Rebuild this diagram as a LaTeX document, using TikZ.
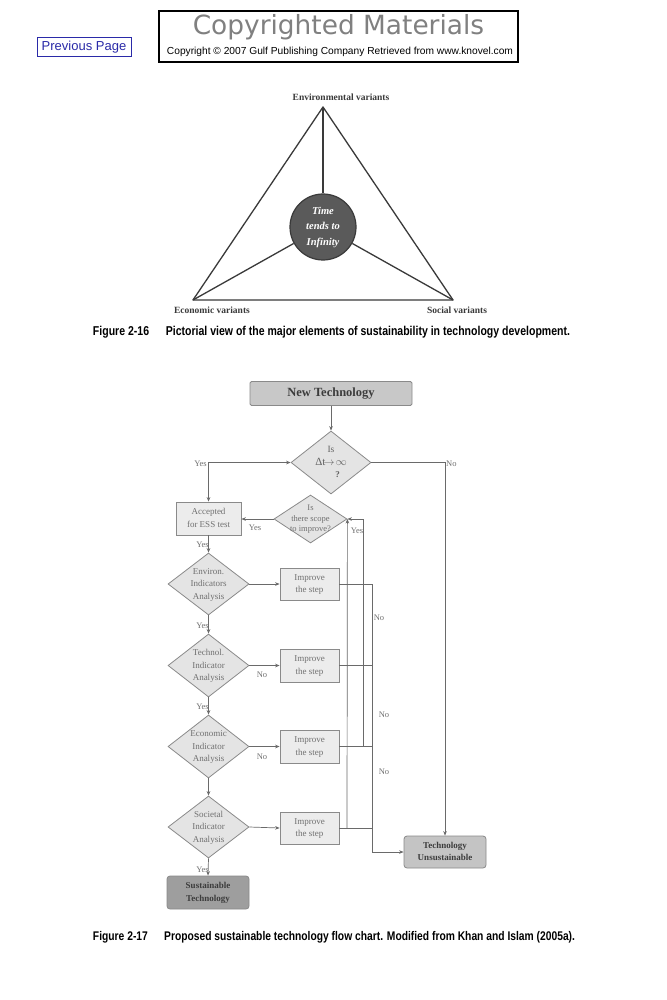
\documentclass[tikz,border=0pt]{standalone}
\usepackage{fontspec}
\setmainfont{Liberation Serif}
\newfontfamily\arialf{Liberation Sans}
\newfontfamily\verdf{DejaVu Sans}
\newfontfamily\condf[FakeStretch=0.82]{Liberation Sans}
\usetikzlibrary{shapes.geometric,arrows.meta}
\definecolor{lncol}{HTML}{6A6A6A}
\definecolor{bcol}{HTML}{8A8A8A}
\definecolor{dfill}{HTML}{E4E4E4}
\definecolor{bfill}{HTML}{ECECEC}
\definecolor{ntfill}{HTML}{C8C8C8}
\definecolor{unfill}{HTML}{C4C4C4}
\definecolor{sufill}{HTML}{9E9E9E}
\definecolor{ftext}{HTML}{707070}
\definecolor{dtext}{HTML}{3C3C3C}
\definecolor{tricol}{HTML}{3A3A3A}
\definecolor{circfill}{HTML}{5A5A5A}
\definecolor{prevblue}{HTML}{2A2AA8}
\newcommand{\dtxt}[1]{\makebox[0pt]{\raisebox{-0.25em}[0pt][0pt]{\begin{tabular}{@{}c@{}}#1\end{tabular}}}}
\begin{document}
\begin{tikzpicture}[x=1pt,y=-1pt,
  >={Stealth[length=4.5pt,width=3.6pt]},
  ln/.style={draw=lncol, line width=0.7pt},
  tri/.style={draw=tricol, line width=1.3pt, line join=round},
  tlab/.style={font=\bfseries\fontsize{9.5}{11}\selectfont, text=tricol, inner sep=0pt},
  box/.style={rectangle, draw=bcol, line width=0.8pt, inner sep=0pt, fill=bfill, text=ftext, font=\fontsize{9}{12.5}\selectfont},
  dia/.style={diamond, draw=bcol, line width=0.8pt, inner sep=0pt, fill=dfill, text=ftext, font=\fontsize{9}{12.5}\selectfont},
  lab/.style={font=\fontsize{8.5}{10}\selectfont, text=ftext, inner sep=0pt},
  captxt/.style={inner sep=0pt, text=black}
]
\fill[white] (0,0) rectangle (666,1000);
\useasboundingbox (0,0) rectangle (666,1000);

% ---------- header ----------
\node[draw=prevblue, line width=0.8pt, fill=white, minimum width=94pt, minimum height=19pt, inner sep=0pt,
      text=prevblue, font=\arialf\fontsize{13}{14}\selectfont] (prev) at (84,47) {Previous Page};
\node[draw=black, line width=1.6pt, minimum width=359pt, minimum height=51pt, inner sep=0pt] (cbox) at (338.5,36.5) {};
\node[inner sep=0pt, text=gray, font=\verdf\fontsize{26.4}{28}\selectfont] (ctitle) at (338.5,27) {Copyrighted Materials};
\node[inner sep=0pt, text=black] (csub) at (340,52) {\resizebox{346pt}{!}{\arialf Copyright \textcopyright{} 2007 Gulf Publishing Company Retrieved from www.knovel.com}};

% ---------- figure 2-16 ----------
\coordinate (A) at (323,107);
\coordinate (B) at (193,300);
\coordinate (C) at (453,300);
\node[circle, draw=tricol, line width=1.2pt, fill=circfill, minimum size=66pt, inner sep=0pt,
      text=white, font=\bfseries\itshape\fontsize{10.5}{15.5}\selectfont] (O) at (323,227)
      {\dtxt{Time\\tends to\\Infinity}};
\draw[tri] (A) -- (B) -- (C) -- cycle;
\draw[tri] (A) -- (O);
\draw[tri] (B) -- (O);
\draw[tri] (C) -- (O);
\node[tlab] (envl) at (341,97) {Environmental variants};
\node[tlab] (ecol) at (212,310) {Economic variants};
\node[tlab] (socl) at (457,310) {Social variants};
\node[captxt] (cap1) at (331.5,332) {\resizebox{477pt}{!}{\condf\bfseries Figure 2-16\hspace{1.3em}Pictorial view of the major elements of sustainability in technology development.}};

% ---------- figure 2-17 ----------
\node[box, fill=ntfill, rounded corners=1.5pt, minimum width=162pt, minimum height=24pt, text=dtext,
      font=\bfseries\fontsize{12.5}{14}\selectfont] (nt) at (331,393.5) {New Technology};
\node[dia, minimum width=80pt, minimum height=63pt, text=dtext!80!white] (d1) at (331,462.5)
      {\dtxt{\fontsize{9.5}{15.5}\selectfont Is\\{\fontsize{11}{12}\selectfont Δt$\!\rightarrow\!\infty$}\\\hspace*{13pt}\textbf{?}}};
\node[box, minimum width=65pt, minimum height=33pt] (acc) at (208.5,518.5) {\dtxt{Accepted\\for ESS test}};
\node[dia, minimum width=73pt, minimum height=48pt, font=\fontsize{8.5}{10.5}\selectfont] (scope) at (310.5,519)
      {\dtxt{Is\\there scope\\to improve?}};
\node[dia, minimum width=81pt, minimum height=62pt] (env) at (208.5,584) {\dtxt{Environ.\\Indicators\\Analysis}};
\node[dia, minimum width=81pt, minimum height=63pt] (tec) at (208.5,665.5) {\dtxt{Technol.\\Indicator\\Analysis}};
\node[dia, minimum width=81pt, minimum height=63pt] (eco) at (208.5,746.5) {\dtxt{Economic\\Indicator\\Analysis}};
\node[dia, minimum width=81pt, minimum height=62pt] (soc) at (208.5,827) {\dtxt{Societal\\Indicator\\Analysis}};
\node[box, minimum width=59pt, minimum height=32pt] (imp1) at (309.5,584) {\dtxt{Improve\\the step}};
\node[box, minimum width=59pt, minimum height=33pt] (imp2) at (309.5,665.5) {\dtxt{Improve\\the step}};
\node[box, minimum width=59pt, minimum height=33pt] (imp3) at (309.5,746.5) {\dtxt{Improve\\the step}};
\node[box, minimum width=59pt, minimum height=32pt] (imp4) at (309.5,828) {\dtxt{Improve\\the step}};
\node[box, fill=sufill, rounded corners=3pt, minimum width=82pt, minimum height=33pt, text=dtext,
      font=\bfseries\fontsize{9}{12.5}\selectfont] (sus) at (208,892.5) {\dtxt{Sustainable\\Technology}};
\node[box, fill=unfill, rounded corners=3pt, minimum width=82pt, minimum height=32pt, text=dtext,
      font=\bfseries\fontsize{9}{12.5}\selectfont] (uns) at (445,852) {\dtxt{Technology\\Unsustainable}};

% connectors
\draw[ln,->] (nt.south) -- (d1.north);
\draw[ln,<->] (d1.west) -| (acc.north);
\draw[ln,->] (d1.east) -| (uns.north);
\draw[ln,->] (scope.west) -- (scope.west -| acc.east);
\draw[ln,->] (acc.south) -- (env.north);
\draw[ln,->] (env.south) -- (tec.north);
\draw[ln,->] (tec.south) -- (eco.north);
\draw[ln,->] (eco.south) -- (soc.north);
\draw[ln,->] (soc.south) -- (sus.north);
\draw[ln,->] (env.east) -- (imp1.west);
\draw[ln,->] (tec.east) -- (imp2.west);
\draw[ln,->] (eco.east) -- (imp3.west);
\draw[ln,->] (soc.east) -- (imp4.west);
\coordinate (r1) at (372,584);
\coordinate (r2) at (372,665.5);
\coordinate (r3) at (372,746.5);
\coordinate (r4) at (372,828);
\coordinate (rb) at (372,852);
\draw[ln] (imp1.east) -- (r1);
\draw[ln] (imp2.east) -- (r2);
\draw[ln] (imp3.east) -- (r3);
\draw[ln] (imp4.east) -- (r4);
\draw[ln,->] (r1) -- (rb) -- (uns.west);
\coordinate (f4) at (347,828);
\coordinate (f3) at (363,746.5);
\coordinate (f3t) at (363,519);
\draw[ln,->] (f4) -- (scope.east);
\draw[ln,->] (f3) -- (f3t) -- (scope.east);

% labels
\node[lab, anchor=east] (y1) at (207,463.5) {Yes};
\node[lab, anchor=west] (n1) at (446,463.5) {No};
\node[lab] (y2) at (255,528) {Yes};
\node[lab] (y3) at (357,531) {Yes};
\node[lab, anchor=east] (y4) at (209,545) {Yes};
\node[lab, anchor=east] (y5) at (209,626) {Yes};
\node[lab, anchor=east] (y6) at (209,707) {Yes};
\node[lab, anchor=east] (y7) at (209,870) {Yes};
\node[lab] (n2) at (262,675) {No};
\node[lab] (n3) at (262,757) {No};
\node[lab] (n4) at (379,618) {No};
\node[lab] (n5) at (384,715) {No};
\node[lab] (n6) at (384,772) {No};

\node[captxt] (cap2) at (334,937) {\resizebox{482pt}{!}{\condf\bfseries Figure 2-17\hspace{1.3em}Proposed sustainable technology flow chart. Modified from Khan and Islam (2005a).}};
\end{tikzpicture}
\end{document}
